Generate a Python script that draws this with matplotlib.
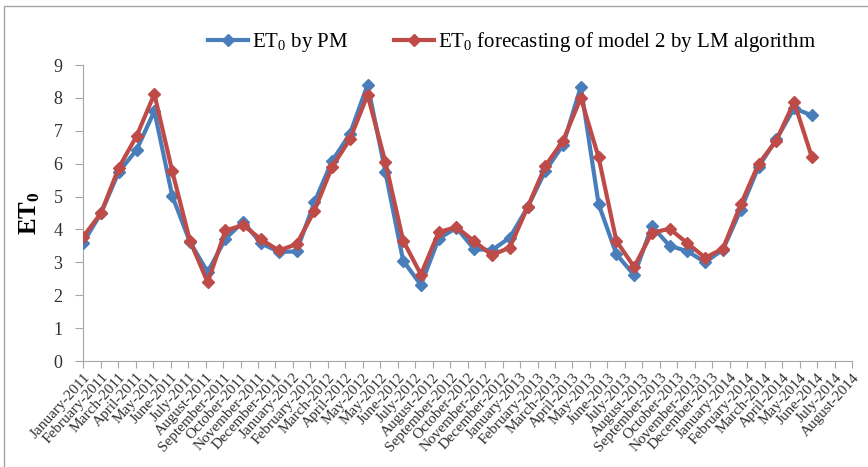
import numpy as np
import matplotlib
matplotlib.use('Agg')
import matplotlib.pyplot as plt
from matplotlib.patches import Rectangle

plt.rcParams['font.family'] = ['Liberation Serif', 'DejaVu Serif']
plt.rcParams['mathtext.fontset'] = 'custom'
plt.rcParams['mathtext.rm'] = 'Liberation Serif'
plt.rcParams['mathtext.bf'] = 'Liberation Serif:bold'

# category labels as printed on the x axis (May-2012 appears twice in the original)
months = ['January-2011', 'February-2011', 'March-2011', 'April-2011', 'May-2011',
          'June-2011', 'July-2011', 'August-2011', 'September-2011', 'October-2011',
          'November-2011', 'December-2011', 'January-2012', 'February-2012',
          'March-2012', 'April-2012', 'May-2012', 'May-2012', 'June-2012',
          'July-2012', 'August-2012', 'September-2012', 'October-2012',
          'November-2012', 'December-2012', 'January-2013', 'February-2013',
          'March-2013', 'April-2013', 'May-2013', 'June-2013', 'July-2013',
          'August-2013', 'September-2013', 'October-2013', 'November-2013',
          'December-2013', 'January-2014', 'February-2014', 'March-2014',
          'April-2014', 'May-2014', 'June-2014', 'July-2014', 'August-2014']

# ET0 by Penman-Monteith
et0_pm = [3.6, 4.5, 5.75, 6.42, 7.6, 5.03, 3.62, 2.7, 3.72, 4.23,
          3.58, 3.32, 3.33, 4.82, 6.08, 6.9, 8.4, 5.75, 3.05, 2.31,
          3.72, 4.05, 3.4, 3.37, 3.75, 4.67, 5.78, 6.57, 8.34, 4.77,
          3.25, 2.61, 4.1, 3.5, 3.34, 3.0, 3.39, 4.6, 5.9, 6.74,
          7.68, 7.47]

# ET0 forecast, model 2, LM algorithm
et0_lm = [3.78, 4.5, 5.88, 6.84, 8.12, 5.78, 3.66, 2.39, 3.97, 4.13,
          3.7, 3.36, 3.55, 4.56, 5.9, 6.74, 8.09, 6.05, 3.66, 2.63,
          3.92, 4.07, 3.64, 3.22, 3.45, 4.67, 5.93, 6.7, 8.0, 6.19,
          3.65, 2.86, 3.9, 4.02, 3.58, 3.14, 3.42, 4.76, 5.99, 6.7,
          7.88, 6.2]

x_span = 43.26  # data units spanned by the category axis in the original

fig = plt.figure(figsize=(8.68, 4.67), dpi=100)
ax = fig.add_axes([83.3 / 868, 1 - 361 / 467, (852 - 83.3) / 868, (361 - 65) / 467])

x = np.arange(len(et0_pm))
ax.plot(x, et0_pm, color='#4a7ebb', lw=3, marker='D', ms=6,
        label=r'ET$_0$ by PM', zorder=3)
ax.plot(x, et0_lm, color='#be4b48', lw=3, marker='D', ms=6,
        label=r'ET$_0$ forecasting of model 2 by LM algorithm', zorder=4)

ax.set_xlim(0, x_span)
ax.set_ylim(0, 9)
ax.set_yticks(range(10))
ax.set_xticks(np.linspace(0, x_span, len(months)))
ax.set_xticklabels(months, rotation=48, ha='right', rotation_mode='anchor',
                   fontsize=11, color='#303030')
ax.tick_params(axis='y', labelsize=13, labelcolor='#303030', color='#a6a6a6',
               length=6, direction='out', pad=9)
ax.tick_params(axis='x', color='#a6a6a6', length=5, direction='out', pad=2)

for side in ['top', 'right']:
    ax.spines[side].set_visible(False)
for side in ['left', 'bottom']:
    ax.spines[side].set_color('#a6a6a6')

ax.set_ylabel(r'$\mathbf{ET_0}$', fontsize=18, labelpad=8)

fig.legend(loc='center', bbox_to_anchor=(512 / 868, 1 - 42 / 467), ncol=2,
           frameon=False, fontsize=15, handlelength=1.9, columnspacing=2.2,
           handletextpad=0.2)

# chart area border
fig.add_artist(Rectangle((4 / 868, -0.1), 1.2, 1.1 - 6 / 467,
                         transform=fig.transFigure, fill=False,
                         edgecolor='#a6a6a6', lw=1))

fig.savefig('out.png', dpi=100)
